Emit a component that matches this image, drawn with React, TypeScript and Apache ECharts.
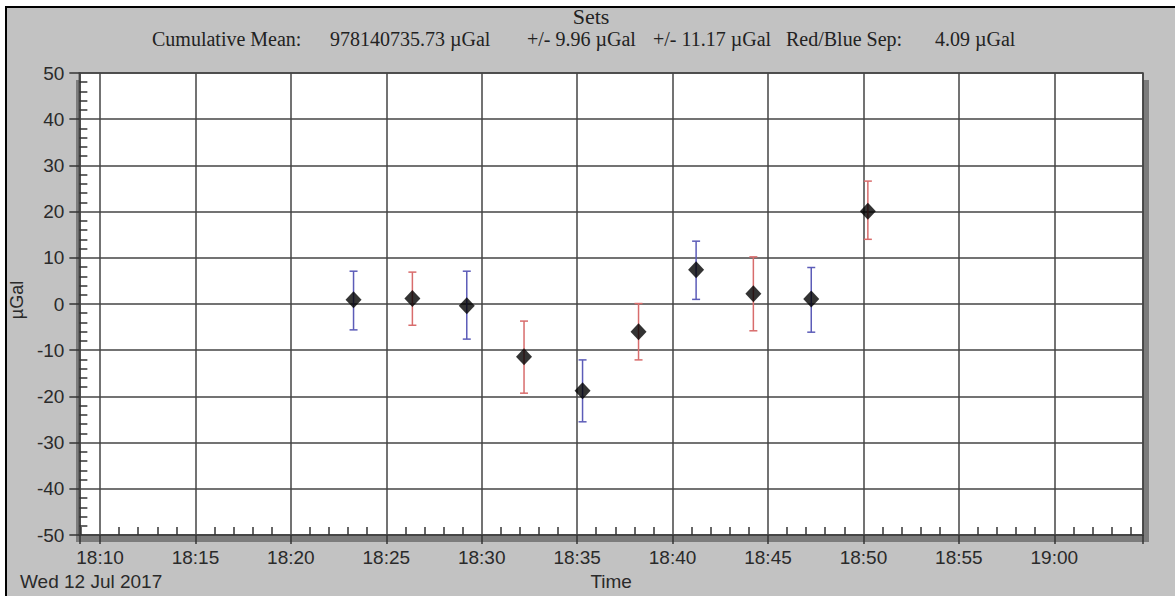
import React, { useEffect, useRef } from "react";
import * as echarts from "echarts";

// ---- data ----
const setTimes = ["18:23:17", "18:26:22", "18:29:13", "18:32:13", "18:35:17", "18:38:13", "18:41:14", "18:44:14", "18:47:16", "18:50:14"];
const setMeans = [0.9, 1.2, -0.4, -11.4, -18.8, -6.0, 7.4, 2.2, 1.1, 20.1];
const setUpper = [7.1, 6.9, 7.1, -3.7, -12.1, 0.1, 13.6, 10.2, 7.9, 26.6];
const setLower = [-5.6, -4.6, -7.6, -19.3, -25.5, -12.1, 1.0, -5.8, -6.1, 14.0];
const setGroups = ["blue", "red", "blue", "red", "blue", "red", "blue", "red", "blue", "red"];

const xMinTime = "18:08:55";
const xMaxTime = "19:04:39";
const yMin = -50;
const yMax = 50;
const yInterval = 10;

const titleText = "Sets";
const subtitleParts = ["Cumulative Mean:", "978140735.73 µGal", "+/- 9.96 µGal", "+/- 11.17 µGal", "Red/Blue Sep:", "4.09 µGal"];
const dateLabel = "Wed 12 Jul 2017";
const xAxisName = "Time";
const yAxisName = "µGal";

// ---- layout ----
const W = 1175;
const H = 596;
const GRID_L = 70;
const GRID_T = 73;
const GRID_W = 1073;
const GRID_H = 462;
const SUB_X = [152, 330, 527, 653, 786, 935];

const toMin = (t: string) => {
  const [h, m, s] = t.split(":").map(Number);
  return h * 60 + m + (s || 0) / 60;
};
const pad = (n: number) => (n < 10 ? "0" + n : "" + n);

const COLORS: Record<string, string> = { blue: "#5c5cb8", red: "#d86c6c" };

function errorSeries(group: string) {
  const data: number[][] = [];
  setTimes.forEach((t, i) => {
    if (setGroups[i] === group) data.push([toMin(t), setLower[i], setUpper[i]]);
  });
  const color = COLORS[group];
  return {
    type: "custom",
    name: group,
    data,
    encode: { x: 0, y: [1, 2] },
    z: 3,
    renderItem: (params: any, api: any) => {
      const x = api.value(0);
      const lo = api.value(1);
      const hi = api.value(2);
      const top = api.coord([x, hi]);
      const bot = api.coord([x, lo]);
      const half = 4;
      const style = { stroke: color, lineWidth: 1.5 };
      return {
        type: "group",
        children: [
          { type: "line", shape: { x1: top[0], y1: top[1], x2: bot[0], y2: bot[1] }, style },
          { type: "line", shape: { x1: top[0] - half, y1: top[1], x2: top[0] + half, y2: top[1] }, style },
          { type: "line", shape: { x1: bot[0] - half, y1: bot[1], x2: bot[0] + half, y2: bot[1] }, style },
        ],
      };
    },
  };
}

export default function App() {
  const ref = useRef<HTMLDivElement>(null);
  useEffect(() => {
    if (!ref.current) return;
    const chart = echarts.init(ref.current, undefined, { renderer: "svg" });
    const sans = "'Liberation Sans', Arial, sans-serif";
    const serif = "'Liberation Serif', 'Times New Roman', serif";
    const gridColor = "#444444";
    chart.setOption({
      animation: false,
      backgroundColor: "#ffffff",
      graphic: [
        {
          type: "rect",
          z: -20,
          shape: { x: 6, y: 7, width: W + 10, height: H + 10 },
          style: { fill: "#c2c2c2", stroke: "#000", lineWidth: 2 },
          silent: true,
        },
        {
          type: "rect",
          z: -10,
          shape: { x: GRID_L + 6, y: GRID_T + 7, width: GRID_W, height: GRID_H },
          style: { fill: "#7c7c7c" },
          silent: true,
        },
        {
          type: "text",
          x: 591,
          y: 16,
          style: { text: titleText, fontFamily: serif, fontSize: 22, lineHeight: 20, fill: "#222", verticalAlign: "middle", textAlign: "center" },
          silent: true,
        },
        ...subtitleParts.map((t, i) => ({
          type: "text",
          x: SUB_X[i],
          y: 39,
          style: { text: t, fontFamily: serif, fontSize: 20, lineHeight: 18, fill: "#222", verticalAlign: "middle", textAlign: "left" },
          silent: true,
        })),
        {
          type: "text",
          x: 20,
          y: 581,
          style: { text: dateLabel, fontFamily: sans, fontSize: 19, fill: "#2a2a2a", verticalAlign: "middle", textAlign: "left" },
          silent: true,
        },
      ],
      grid: {
        show: true,
        left: GRID_L,
        top: GRID_T,
        width: GRID_W,
        height: GRID_H,
        backgroundColor: "#ffffff",
        borderColor: gridColor,
        borderWidth: 1.5,
        containLabel: false,
      },
      xAxis: {
        type: "value",
        min: toMin(xMinTime),
        max: toMin(xMaxTime),
        splitNumber: 11,
        minInterval: 5,
        maxInterval: 5,
        name: xAxisName,
        nameLocation: "middle",
        nameGap: 36,
        nameTextStyle: { fontFamily: sans, fontSize: 19, color: "#2a2a2a" },
        axisLine: { show: true, onZero: false, lineStyle: { color: gridColor, width: 1.5 } },
        axisTick: { show: true, inside: false, length: 9, lineStyle: { color: "#333", width: 1.5 } },
        minorTick: { show: true, splitNumber: 5, length: -8, lineStyle: { color: "#333", width: 1.5 } },
        splitLine: { show: true, lineStyle: { color: gridColor, width: 1.5 } },
        axisLabel: {
          margin: 13,
          fontFamily: sans,
          fontSize: 19,
          color: "#2a2a2a",
          showMinLabel: false,
          showMaxLabel: false,
          formatter: (v: number) => {
            const r = Math.round(v / 5) * 5;
            if (Math.abs(v - r) > 0.01) return "";
            return Math.floor(r / 60) + ":" + pad(r % 60);
          },
        },
      },
      yAxis: {
        type: "value",
        min: yMin,
        max: yMax,
        interval: yInterval,
        name: yAxisName,
        nameLocation: "middle",
        nameGap: 44,
        nameRotate: 90,
        nameTextStyle: { fontFamily: sans, fontSize: 18, color: "#2a2a2a", padding: [0, 0, 0, 8] },
        axisLine: { show: true, lineStyle: { color: gridColor, width: 1.5 } },
        axisTick: { show: true, inside: false, length: 10, lineStyle: { color: "#333", width: 1.5 } },
        minorTick: { show: true, splitNumber: 5, length: -8, lineStyle: { color: "#333", width: 1.5 } },
        splitLine: { show: true, lineStyle: { color: gridColor, width: 1.5 } },
        axisLabel: { margin: 15, fontFamily: sans, fontSize: 19, color: "#2a2a2a" },
      },
      series: [
        errorSeries("blue"),
        errorSeries("red"),
        {
          type: "scatter",
          name: "mean",
          z: 5,
          symbol: "diamond",
          symbolSize: [16, 17],
          itemStyle: { color: "#000" },
          data: setTimes.map((t, i) => [toMin(t), setMeans[i]]),
        },
      ],
    });
    return () => chart.dispose();
  }, []);
  return <div ref={ref} style={{ position: "absolute", left: 0, top: 0, width: W, height: H }} />;
}
